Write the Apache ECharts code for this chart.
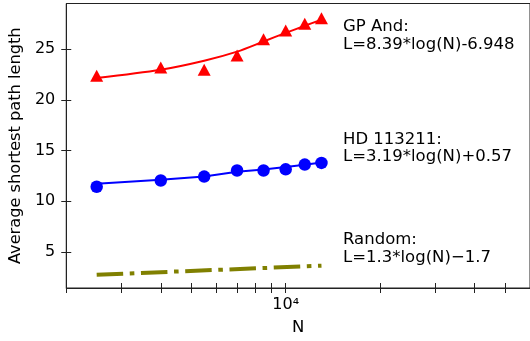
<!DOCTYPE html>
<html><head><meta charset="utf-8">
<script src="https://cdn.jsdelivr.net/npm/echarts@6/dist/echarts.min.js"></script>
<style>html,body{margin:0;padding:0;background:#fff}#c{width:530px;height:341px}</style>
</head><body><div id="c"></div>
<script>
const N = [2500, 4000, 5500, 7000, 8500, 10000, 11500, 13000];
const gpPoints = [22.37, 23.19, 22.96, 24.37, 25.98, 26.83, 27.49, 28.05];
const gpFit = [22.14, 22.96, 23.85, 24.75, 25.75, 26.6, 27.3, 27.9];
const hdPoints = [11.42, 12.04, 12.42, 13.02, 13.02, 13.14, 13.61, 13.77];
const hdFit = [11.72, 12.12, 12.42, 12.9, 13.12, 13.38, 13.6, 13.82];
const randN = [2500, 13000];
const randFit = [2.74, 3.63];
const xTicks = [2000, 3000, 4000, 5000, 6000, 7000, 8000, 9000, 10000, 20000, 30000, 40000, 50000];
const xLabels = [10000];
const yTicks = [5, 10, 15, 20, 25];
const notes = [
  ['GP And:', 'L=8.39*log(N)-6.948'],
  ['HD 113211:', 'L=3.19*log(N)+0.57'],
  ['Random:', 'L=1.3*log(N)\u22121.7']
];

const pair = (xs, ys) => xs.map((x, i) => [x, ys[i]]);
const FONT = 'DejaVu Sans';
const AX = '#222';
const chart = echarts.init(document.getElementById('c'), null, {renderer: 'canvas'});

const xBase = {
  type: 'log', logBase: 10, min: 2000, max: 60000, position: 'bottom',
  splitLine: {show: false}, minorTick: {show: false}
};
const yBase = {
  type: 'value', min: 1.43, max: 29.5, position: 'left',
  splitLine: {show: false}
};

chart.setOption({
  animation: false,
  textStyle: {fontFamily: FONT},
  grid: {left: 64, right: -3, top: 3.5, bottom: 52, show: true, borderColor: AX, borderWidth: 1, backgroundColor: 'transparent'},
  xAxis: [
    Object.assign({}, xBase, {
      name: 'N', nameLocation: 'middle', nameGap: 31,
      nameTextStyle: {fontSize: 16.5, color: '#000', fontFamily: FONT},
      axisLine: {show: true, lineStyle: {color: AX, width: 1}},
      axisTick: {show: true, inside: false, length: 5, lineStyle: {color: AX, width: 1}, customValues: xTicks},
      axisLabel: {show: true, customValues: xLabels, margin: 9, fontSize: 16, color: '#000', fontFamily: FONT,
        formatter: v => '10\u2074'}
    }),
    Object.assign({}, xBase, {
      axisLine: {show: false},
      axisTick: {show: true, inside: true, length: 5, lineStyle: {color: AX, width: 1}, customValues: xTicks},
      axisLabel: {show: false}
    })
  ],
  yAxis: [
    Object.assign({}, yBase, {
      name: 'Average shortest path length', nameLocation: 'middle', nameGap: 39.5,
      nameTextStyle: {fontSize: 16.2, color: '#000', fontFamily: FONT},
      axisLine: {show: true, lineStyle: {color: AX, width: 1}},
      axisTick: {show: true, inside: false, length: 5, lineStyle: {color: AX, width: 1}, customValues: yTicks},
      axisLabel: {show: true, customValues: yTicks, margin: 11, fontSize: 16, color: '#000', fontFamily: FONT}
    }),
    Object.assign({}, yBase, {
      axisLine: {show: false},
      axisTick: {show: true, inside: true, length: 5, lineStyle: {color: AX, width: 1}, customValues: yTicks},
      axisLabel: {show: false}
    })
  ],
  series: [
    {type: 'line', data: pair(N, gpFit), symbol: 'none', smooth: 0.3, lineStyle: {color: '#ff0000', width: 2}, z: 2},
    {type: 'scatter', data: pair(N, gpPoints), symbol: 'triangle', symbolSize: [13, 12], itemStyle: {color: '#ff0000', opacity: 1}, z: 3},
    {type: 'line', data: pair(N, hdFit), symbol: 'none', lineStyle: {color: '#0000ff', width: 2}, z: 2},
    {type: 'scatter', data: pair(N, hdPoints), symbol: 'circle', symbolSize: 12.5, itemStyle: {color: '#0000ff', opacity: 1}, z: 3},
    {type: 'line', data: pair(randN, randFit), symbol: 'none',
      lineStyle: {color: '#808000', width: 4, type: [26.5, 6.6, 4.6, 6.6], cap: 'butt'}, z: 2}
  ],
  graphic: notes.map((lines, i) => ({
    type: 'text', left: 343, top: [18, 130.5, 231][i],
    style: {text: lines.join('\n'), fontSize: 16.5, lineHeight: 17.5, fill: '#000', fontFamily: FONT}
  }))
});
</script>
</body></html>
